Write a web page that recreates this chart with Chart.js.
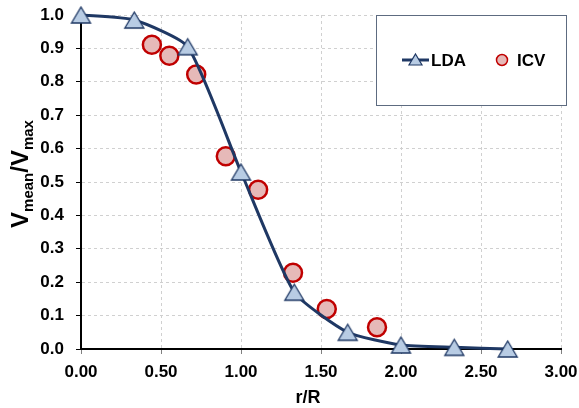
<!DOCTYPE html>
<html>
<head>
<meta charset="utf-8">
<script src="https://cdn.jsdelivr.net/npm/chart.js@4.4.1/dist/chart.umd.min.js"></script>
<style>
  html, body { margin: 0; padding: 0; background: #fff; }
  #wrap { width: 579px; height: 408px; }
</style>
</head>
<body>
<div id="wrap"><canvas id="profileChart" width="579" height="408"></canvas></div>
<script>
const ldaR = [0, 0.333, 0.667, 1.0, 1.333, 1.667, 2.0, 2.333, 2.667];
const ldaV = [1.0, 0.985, 0.905, 0.53, 0.17, 0.05, 0.012, 0.005, 0.0];
const icvR = [0.443, 0.552, 0.72, 0.905, 1.107, 1.325, 1.536, 1.85];
const icvV = [0.911, 0.878, 0.822, 0.577, 0.477, 0.228, 0.12, 0.065];
const seriesNames = ['LDA', 'ICV'];
const xTitle = 'r/R';

const navy = '#1f3864';
const fontFam = '"Liberation Sans", Arial, sans-serif';

// excel-like triangle marker, centred on its bounding box
function makeTriangle(w, h) {
  const c = document.createElement('canvas');
  c.width = w + 4;
  c.height = h + 4;
  const t = c.getContext('2d');
  t.beginPath();
  t.moveTo(c.width / 2, 2);
  t.lineTo(c.width - 2, h + 2);
  t.lineTo(2, h + 2);
  t.closePath();
  t.fillStyle = '#b8cce4';
  t.fill();
  t.strokeStyle = navy;
  t.lineWidth = 1.3;
  t.stroke();
  return c;
}
const triMarker = makeTriangle(19, 16);

// legend box + axis titles drawn by hand
const extras = {
  id: 'extras',
  afterDraw(chart) {
    const ctx = chart.ctx;
    ctx.save();

    // legend box
    const bx = 376.5, by = 15.5, bw = 190, bh = 90;
    ctx.fillStyle = '#fff';
    ctx.fillRect(bx, by, bw, bh);
    ctx.strokeStyle = '#5d6b80';
    ctx.lineWidth = 1;
    ctx.strokeRect(bx, by, bw, bh);

    const ly = 60;
    ctx.strokeStyle = navy;
    ctx.lineWidth = 3;
    ctx.beginPath();
    ctx.moveTo(402, ly);
    ctx.lineTo(429, ly);
    ctx.stroke();
    ctx.fillStyle = '#b8cce4';
    ctx.lineWidth = 1.2;
    ctx.beginPath();
    ctx.moveTo(415.5, ly - 6);
    ctx.lineTo(422, ly + 5);
    ctx.lineTo(409, ly + 5);
    ctx.closePath();
    ctx.fill();
    ctx.stroke();

    ctx.beginPath();
    ctx.arc(502, ly, 5.5, 0, Math.PI * 2);
    ctx.fillStyle = '#e6b9b8';
    ctx.fill();
    ctx.strokeStyle = '#c00000';
    ctx.lineWidth = 1.5;
    ctx.stroke();

    ctx.fillStyle = '#000';
    ctx.font = 'bold 17px ' + fontFam;
    ctx.textBaseline = 'middle';
    ctx.textAlign = 'left';
    ctx.fillText(seriesNames[0], 431, ly + 1);
    ctx.fillText(seriesNames[1], 517, ly + 1);

    // x title
    ctx.textAlign = 'center';
    ctx.font = 'bold 18px ' + fontFam;
    ctx.fillText(xTitle, 308, 398);

    // y title with subscripts
    ctx.translate(20, 174);
    ctx.rotate(-Math.PI / 2);
    const parts = [
      ['V', 24, 0], ['mean', 15, 5], ['/', 24, 0], ['V', 24, 0], ['max', 15, 5]
    ];
    let total = 0;
    parts.forEach(p => {
      ctx.font = 'bold ' + p[1] + 'px ' + fontFam;
      total += ctx.measureText(p[0]).width;
    });
    let x = -total / 2;
    ctx.textAlign = 'left';
    ctx.textBaseline = 'alphabetic';
    parts.forEach(p => {
      ctx.font = 'bold ' + p[1] + 'px ' + fontFam;
      ctx.fillText(p[0], x, 8 + p[2]);
      x += ctx.measureText(p[0]).width;
    });
    ctx.restore();
  }
};

const ctx = document.getElementById('profileChart').getContext('2d');
const chart = new Chart(ctx, {
  type: 'scatter',
  data: {
    datasets: [
      {
        label: seriesNames[0],
        data: ldaR.map((r, i) => ({ x: r, y: ldaV[i] })),
        showLine: true,
        tension: 0.18,
        clip: false,
        borderColor: navy,
        borderWidth: 3,
        pointStyle: triMarker,
        pointRadius: 10,
        order: 1
      },
      {
        label: seriesNames[1],
        data: icvR.map((r, i) => ({ x: r, y: icvV[i] })),
        showLine: false,
        clip: false,
        pointStyle: 'circle',
        pointRadius: 9,
        pointBackgroundColor: '#e6b9b8',
        pointBorderColor: '#c00000',
        pointBorderWidth: 2.5,
        order: 2
      }
    ]
  },
  options: {
    responsive: false,
    animation: false,
    layout: { padding: { left: 0, top: 15, right: 18, bottom: 0 } },
    plugins: {
      legend: { display: false },
      tooltip: { enabled: false }
    },
    scales: {
      x: {
        type: 'linear',
        min: 0,
        max: 3,
        afterFit: s => { s.height = 59; s.paddingLeft = 0; s.paddingRight = 0; },
        ticks: {
          stepSize: 0.5,
          color: '#000',
          padding: 8,
          font: { family: fontFam, size: 17, weight: 'bold' },
          callback: v => v.toFixed(2)
        },
        grid: {
          color: '#d0d0d0',
          tickColor: '#808080',
          tickLength: 5,
          lineWidth: 1
        },
        border: { color: '#000', width: 2, dash: [3, 3] }
      },
      y: {
        min: 0,
        max: 1,
        afterFit: s => { s.width = 81; s.paddingTop = 0; s.paddingBottom = 0; },
        ticks: {
          stepSize: 0.1,
          color: '#000',
          padding: 12,
          font: { family: fontFam, size: 17, weight: 'bold' },
          callback: v => v.toFixed(1)
        },
        grid: {
          color: '#d0d0d0',
          tickColor: '#000',
          tickLength: 5,
          lineWidth: 1
        },
        border: { color: '#000', width: 2, dash: [3, 3] }
      }
    }
  },
  plugins: [extras]
});
</script>
</body>
</html>
